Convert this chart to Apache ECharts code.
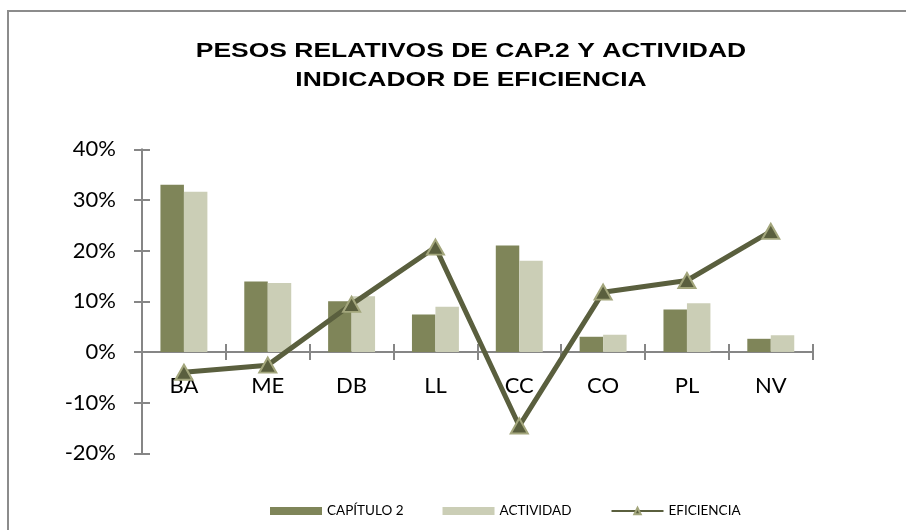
<!DOCTYPE html>
<html><head><meta charset="utf-8">
<script src="https://cdn.jsdelivr.net/npm/echarts@6/dist/echarts.min.js"></script>
<style>html,body{margin:0;padding:0;background:#fff}#c{width:906px;height:530px}</style>
</head><body><div id="c"></div>
<script>
const categories = ['BA', 'ME', 'DB', 'LL', 'CC', 'CO', 'PL', 'NV'];
const capitulo2 = [33.0, 13.9, 10.0, 7.4, 21.0, 3.0, 8.4, 2.6];
const actividad = [31.6, 13.6, 11.0, 8.9, 18.0, 3.4, 9.6, 3.3];
const eficiencia = [-4.0, -2.6, 9.4, 20.7, -14.6, 11.8, 14.1, 23.8];
const yMin = -20, yMax = 40, yInterval = 10;
const titleLines = ['PESOS RELATIVOS DE CAP.2 Y ACTIVIDAD', 'INDICADOR DE EFICIENCIA'];
const seriesNames = ['CAPÍTULO 2', 'ACTIVIDAD', 'EFICIENCIA'];

const axisGray = '#868686';
const c1 = '#7f8559', c2 = '#cbceb6', c3 = '#5a5f3e', c3b = '#a3a67c';
const labelFont = 'Lato';

const chart = echarts.init(document.getElementById('c'));
chart.setOption({
  animation: false,
  backgroundColor: '#fff',
  graphic: [
    { type: 'rect', shape: { x: 8, y: 11, width: 910, height: 540 },
      style: { fill: 'none', stroke: '#8c8c8c', lineWidth: 2 }, silent: true },
    { type: 'text', x: 471, y: 65.5, scaleX: 1.26, scaleY: 1,
      style: { text: titleLines.join('\n'), fontFamily: 'Liberation Sans', fontWeight: 'bold',
        fontSize: 21, lineHeight: 29, fill: '#000', align: 'center', verticalAlign: 'middle' } }
  ],
  grid: { left: 142, right: 93.3, top: 149.3, bottom: 76.7, containLabel: false, outerBoundsMode: 'none' },
  legend: {
    left: 270, top: 504, padding: 0, itemWidth: 52, itemHeight: 8, itemGap: 39,
    textStyle: { fontFamily: labelFont, fontSize: 13.5, color: '#000' },
    data: [
      { name: seriesNames[0], icon: 'rect' },
      { name: seriesNames[1], icon: 'rect' },
      { name: seriesNames[2] }
    ]
  },
  xAxis: [
    { type: 'category', data: categories, position: 'bottom',
      axisLine: { onZero: true, lineStyle: { color: axisGray, width: 2 } },
      axisTick: { show: true, length: 8, lineStyle: { color: axisGray, width: 2 } },
      axisLabel: { margin: -78, fontFamily: labelFont, fontSize: 22, color: '#000' },
      splitLine: { show: false } },
    { type: 'category', data: categories, position: 'bottom',
      axisLine: { show: false, onZero: true },
      axisTick: { show: true, inside: true, length: 8, lineStyle: { color: axisGray, width: 2 } },
      axisLabel: { show: false }, splitLine: { show: false } }
  ],
  yAxis: [
    { type: 'value', min: yMin, max: yMax, interval: yInterval, position: 'left',
      axisLine: { show: true, lineStyle: { color: axisGray, width: 2 } },
      axisTick: { show: true, length: 8, lineStyle: { color: axisGray, width: 2 } },
      axisLabel: { margin: 26, fontFamily: labelFont, fontSize: 22, color: '#000', formatter: '{value}%' },
      splitLine: { show: false } },
    { type: 'value', min: yMin, max: yMax, interval: yInterval, position: 'left',
      axisLine: { show: false },
      axisTick: { show: true, inside: true, length: 8, lineStyle: { color: axisGray, width: 2 } },
      axisLabel: { show: false }, splitLine: { show: false } }
  ],
  series: [
    { name: seriesNames[0], type: 'bar', data: capitulo2, barGap: '0%', barCategoryGap: '44%',
      itemStyle: { color: c1 } },
    { name: seriesNames[1], type: 'bar', data: actividad, barGap: '0%', barCategoryGap: '44%',
      itemStyle: { color: c2 } },
    { name: seriesNames[2], type: 'line', data: eficiencia, z: 5,
      lineStyle: { color: c3, width: 5 },
      symbol: 'triangle', symbolSize: [17, 15], showAllSymbol: true,
      itemStyle: { color: c3, borderColor: c3b, borderWidth: 2 } }
  ]
});
</script>
</body></html>
